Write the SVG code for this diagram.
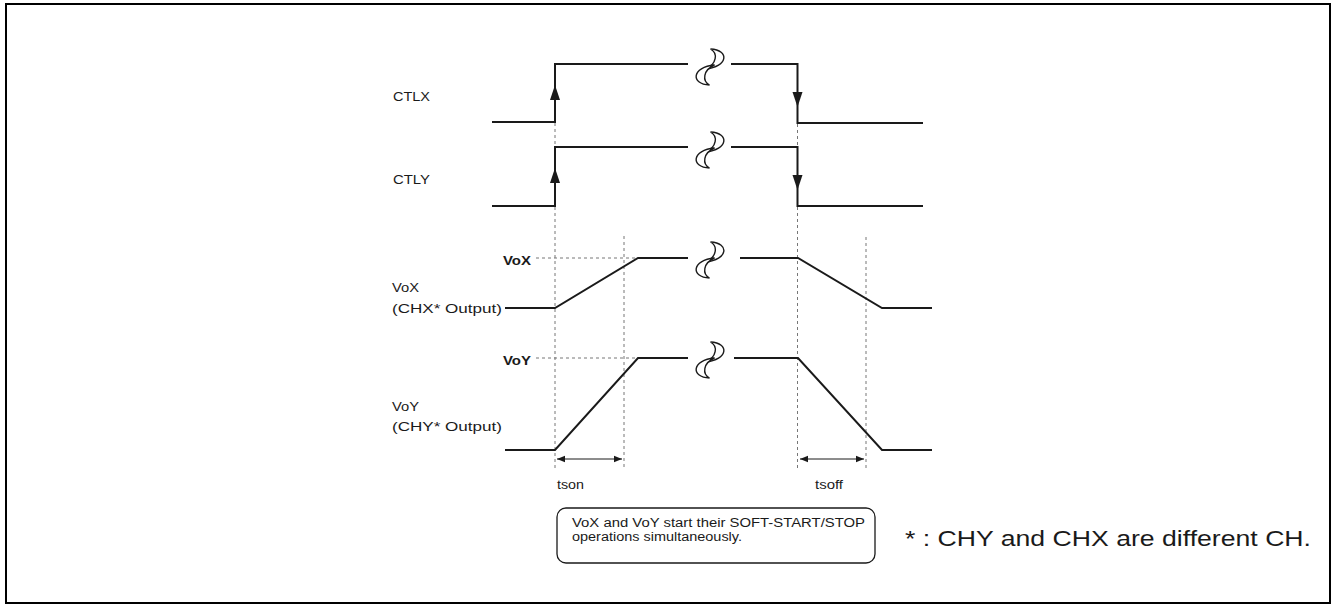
<svg xmlns="http://www.w3.org/2000/svg" width="1336" height="609" viewBox="0 0 1336 609">
<defs>
<style>
.sig{fill:none;stroke:#1a1a1a;stroke-width:2;stroke-linejoin:miter}
.dot{fill:none;stroke:#777;stroke-width:1;stroke-dasharray:3,3}
.dim{fill:none;stroke:#1a1a1a;stroke-width:1}
.brk{fill:#fff;stroke:#1a1a1a;stroke-width:1.4}
.ah{fill:#1a1a1a;stroke:none}
text{font-family:"Liberation Sans",Arial,sans-serif;fill:#1a1a1a}
.lbl{font-size:12px}
.b{font-size:12px;font-weight:bold}
</style>
<marker id="sa" viewBox="0 0 10 10" refX="0" refY="5" markerWidth="10" markerHeight="8" markerUnits="userSpaceOnUse" orient="auto">
<path d="M10,1 L0,5 L10,9 Z" fill="#1a1a1a"/>
</marker>
<marker id="ea" viewBox="0 0 10 10" refX="10" refY="5" markerWidth="10" markerHeight="8" markerUnits="userSpaceOnUse" orient="auto">
<path d="M0,1 L10,5 L0,9 Z" fill="#1a1a1a"/>
</marker>
<g id="brkSym">
<path class="brk" d="M0.5,-18 C20,-17 18,0 -4.5,2 C7,-3 8,-14 0.5,-18 Z"/>
<path class="brk" d="M-0.5,18 C-20,17 -18,0 4.5,-2 C-7,3 -8,14 -0.5,18 Z"/>
</g>
</defs>
<rect x="6" y="4" width="1324" height="599" fill="#fff" stroke="#000" stroke-width="2"/>

<g id="connectors">
<path class="dot" d="M555,123 V146 M555,207 V470 M624,236 V470 M797.5,124 V146 M797.5,207 V470 M866,237 V470 M536,258 H637 M536,358 H637"/>
<line class="dim" x1="557" y1="459" x2="622" y2="459" marker-start="url(#sa)" marker-end="url(#ea)"/>
<line class="dim" x1="800" y1="459" x2="864" y2="459" marker-start="url(#sa)" marker-end="url(#ea)"/>
</g>

<g id="ctlx">
<path class="sig" d="M492,122 H555 V64 H688"/>
<path class="sig" d="M731,64 H797.5 V123 H923"/>
<path class="ah" d="M555,85 L560,100 L550,100 Z"/>
<path class="ah" d="M797.5,107 L802.5,92 L792.5,92 Z"/>
<use href="#brkSym" x="710" y="67"/>
<text class="lbl" x="393" y="101" textLength="37" lengthAdjust="spacingAndGlyphs">CTLX</text>
</g>

<g id="ctly">
<path class="sig" d="M492,206 H555 V147 H688"/>
<path class="sig" d="M731,147 H797.5 V206 H923"/>
<path class="ah" d="M555,168 L560,183 L550,183 Z"/>
<path class="ah" d="M797.5,190 L802.5,175 L792.5,175 Z"/>
<use href="#brkSym" x="710" y="150"/>
<text class="lbl" x="393" y="184" textLength="37" lengthAdjust="spacingAndGlyphs">CTLY</text>
</g>

<g id="vox">
<path class="sig" d="M505,308 H555 L638,258 H688"/>
<path class="sig" d="M740,258 H798 L882,308 H932"/>
<use href="#brkSym" x="710" y="260"/>
<text class="b" x="503" y="265" textLength="28" lengthAdjust="spacingAndGlyphs">VoX</text>
<text class="lbl" x="392" y="292" textLength="27" lengthAdjust="spacingAndGlyphs">VoX</text>
<text class="lbl" x="392" y="313" textLength="110" lengthAdjust="spacingAndGlyphs">(CHX* Output)</text>
</g>

<g id="voy">
<path class="sig" d="M505,450 H555 L638,358 H688"/>
<path class="sig" d="M734,358 H798 L882,450 H932"/>
<use href="#brkSym" x="710" y="360"/>
<text class="b" x="503" y="365" textLength="28" lengthAdjust="spacingAndGlyphs">VoY</text>
<text class="lbl" x="392" y="411" textLength="27" lengthAdjust="spacingAndGlyphs">VoY</text>
<text class="lbl" x="392" y="431" textLength="110" lengthAdjust="spacingAndGlyphs">(CHY* Output)</text>
</g>

<g id="tlabels">
<text class="lbl" x="557" y="489" textLength="27" lengthAdjust="spacingAndGlyphs">tson</text>
<text class="lbl" x="815" y="489" textLength="28" lengthAdjust="spacingAndGlyphs">tsoff</text>
</g>

<g id="note">
<rect x="557" y="508" width="318" height="55" rx="9" ry="9" fill="#fff" stroke="#1a1a1a" stroke-width="1.3"/>
<text class="lbl" x="572" y="527" textLength="293" lengthAdjust="spacingAndGlyphs">VoX and VoY start their SOFT-START/STOP</text>
<text class="lbl" x="572" y="541" textLength="170" lengthAdjust="spacingAndGlyphs">operations simultaneously.</text>
</g>

<g id="footnote">
<text x="905" y="546" font-size="22" textLength="406" lengthAdjust="spacingAndGlyphs">* : CHY and CHX are different CH.</text>
</g>
</svg>
